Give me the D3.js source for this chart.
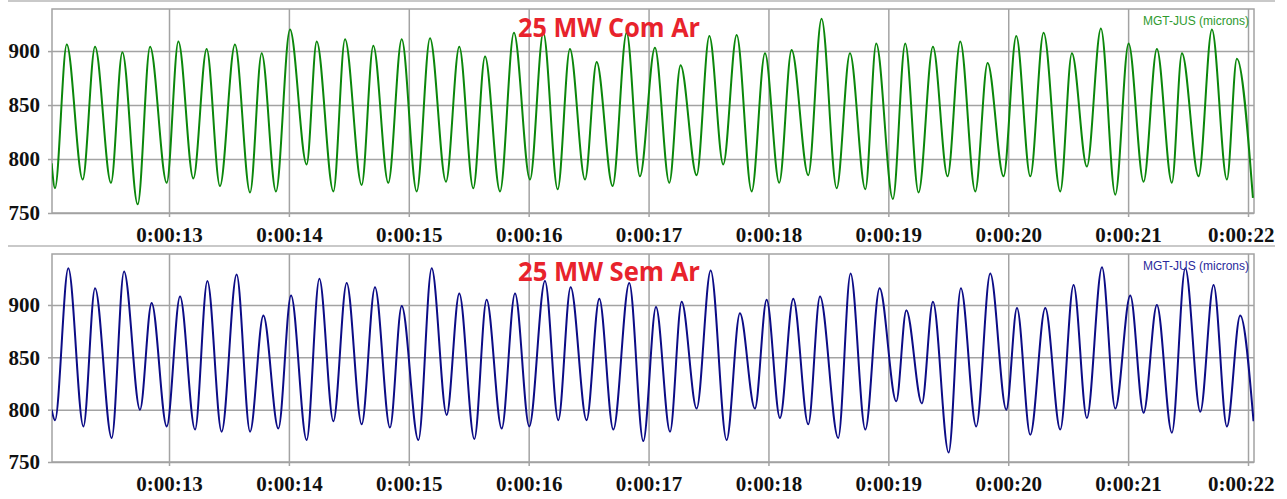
<!DOCTYPE html>
<html>
<head>
<meta charset="utf-8">
<script src="https://cdn.jsdelivr.net/npm/d3@7"></script>
<style>
  body { margin: 0; background: #fff; }
  .tick text { font-family: "Liberation Serif", "Times New Roman", serif; font-weight: bold; font-size: 21px; fill: #111; }
  .domain { display: none; }
</style>
</head>
<body>
<div id="chart"></div>
<script>
const width = 1287;
const height = 499;

/*
Data: trough / peak turning points of each cycle
*/
const comArTimes = [12.021, 12.049, 12.147, 12.280, 12.383, 12.516, 12.611, 12.739, 12.842, 12.981, 13.078,
  13.203, 13.314, 13.425, 13.550, 13.676, 13.773, 13.892, 14.009, 14.148, 14.232, 14.371, 14.468, 14.607,
  14.704, 14.829, 14.941, 15.066, 15.177, 15.310, 15.421, 15.538, 15.636, 15.761, 15.877, 16.011, 16.122,
  16.242, 16.344, 16.470, 16.567, 16.700, 16.817, 16.928, 17.053, 17.173, 17.267, 17.401, 17.507, 17.623,
  17.735, 17.860, 17.971, 18.090, 18.193, 18.332, 18.443, 18.569, 18.680, 18.808, 18.899, 19.038, 19.141,
  19.252, 19.372, 19.494, 19.600, 19.725, 19.828, 19.961, 20.067, 20.184, 20.295, 20.434, 20.531, 20.656,
  20.773, 20.893, 21.004, 21.129, 21.240, 21.365, 21.449, 21.588, 21.699, 21.824, 21.907, 22.041];
const comArValues = [796, 773, 906, 781, 904, 778, 899, 758, 904, 778, 909,
  782, 902, 775, 906, 769, 898, 770, 920, 795, 909, 770, 911, 776,
  905, 778, 911, 770, 912, 779, 904, 773, 895, 770, 917, 781, 917,
  772, 902, 781, 890, 775, 917, 784, 903, 778, 887, 785, 914, 795,
  915, 770, 898, 778, 901, 785, 930, 773, 898, 772, 907, 763, 907,
  769, 904, 784, 909, 770, 889, 784, 914, 784, 917, 770, 898, 793,
  921, 767, 907, 779, 902, 778, 898, 784, 920, 781, 893, 764];

const semArTimes = [12.021, 12.049, 12.160, 12.286, 12.383, 12.522, 12.625, 12.758, 12.855, 12.981, 13.092,
  13.217, 13.320, 13.439, 13.564, 13.676, 13.787, 13.912, 14.018, 14.148, 14.254, 14.371, 14.482, 14.607,
  14.718, 14.843, 14.941, 15.080, 15.191, 15.316, 15.421, 15.547, 15.649, 15.775, 15.886, 16.005, 16.136,
  16.247, 16.350, 16.483, 16.589, 16.706, 16.839, 16.956, 17.062, 17.179, 17.276, 17.401, 17.518, 17.651,
  17.762, 17.887, 17.985, 18.096, 18.207, 18.332, 18.430, 18.582, 18.685, 18.808, 18.927, 19.066, 19.150,
  19.280, 19.372, 19.503, 19.605, 19.733, 19.850, 19.984, 20.073, 20.184, 20.309, 20.434, 20.545, 20.656,
  20.782, 20.893, 21.018, 21.129, 21.240, 21.365, 21.477, 21.602, 21.713, 21.824, 21.935, 22.046];
const semArValues = [800, 790, 935, 784, 916, 773, 932, 800, 902, 784, 908,
  781, 923, 779, 929, 779, 890, 782, 909, 771, 925, 789, 921, 786,
  917, 783, 899, 771, 935, 795, 911, 772, 905, 782, 911, 784, 923,
  790, 917, 790, 906, 781, 921, 770, 898, 779, 903, 801, 933, 771,
  892, 801, 905, 792, 906, 786, 908, 773, 930, 781, 916, 808, 895,
  806, 903, 759, 916, 784, 930, 800, 897, 776, 897, 781, 919, 792,
  936, 801, 909, 797, 900, 778, 935, 798, 919, 784, 890, 789];

const yTicks = [750, 800, 850, 900];
const xTicks = [13, 14, 15, 16, 17, 18, 19, 20, 21, 22];
const titles = ["25 MW Com Ar", "25 MW Sem Ar"];
const legendLabel = "MGT-JUS (microns)";

/*
Panel layout
*/
const panels = [
  { id: "com", times: comArTimes, values: comArValues, title: titles[0],
    top: 9, bottom: 213, yMax: 939, line: "#0b870b", legend: "#2e9a2e", titleY: 37 },
  { id: "sem", times: semArTimes, values: semArValues, title: titles[1],
    top: 254, bottom: 462, yMax: 948.7, line: "#0c0c86", legend: "#2a2a9c", titleY: 281 }
];
const left = 52, right = 1254;
const gridColor = "#a3a3a3";

const svg = d3.select("#chart")
  .append("svg")
  .attr("width", width)
  .attr("height", height);

// separator lines between the panels
[1, 246].forEach((y) => {
  svg.append("line")
    .attr("x1", 8).attr("x2", 1275)
    .attr("y1", y).attr("y2", y)
    .attr("stroke", "#c9c9c9")
    .attr("stroke-width", 2);
});

const x = d3.scaleLinear().domain([12.024, 22.05]).range([left, right]);

panels.forEach((p) => {
  const y = d3.scaleLinear().domain([750, p.yMax]).range([p.bottom, p.top]);
  const g = svg.append("g");

  // grid lines
  g.append("g")
    .attr("transform", `translate(${left},0)`)
    .call(d3.axisLeft(y).tickValues(yTicks).tickSize(-(right - left)).tickFormat(""))
    .call((s) => s.selectAll("line").attr("stroke", gridColor).attr("stroke-width", 1.5));
  g.append("g")
    .attr("transform", `translate(0,${p.bottom})`)
    .call(d3.axisBottom(x).tickValues(xTicks).tickSize(-(p.bottom - p.top)).tickFormat(""))
    .call((s) => s.selectAll("line").attr("stroke", gridColor).attr("stroke-width", 1.5));

  // frame
  g.append("rect")
    .attr("x", left).attr("y", p.top)
    .attr("width", right - left).attr("height", p.bottom - p.top)
    .attr("fill", "none")
    .attr("stroke", gridColor)
    .attr("stroke-width", 1.5);

  // labelled axes
  g.append("g")
    .attr("transform", `translate(${left},0)`)
    .call(d3.axisLeft(y).tickValues(yTicks).tickSize(4).tickPadding(8))
    .call((s) => s.selectAll("line").attr("stroke", gridColor).attr("stroke-width", 1.5));
  const xAxis = g.append("g")
    .attr("transform", `translate(0,${p.bottom})`)
    .call(d3.axisBottom(x).tickValues(xTicks).tickSize(4).tickPadding(10)
      .tickFormat((d) => `0:00:${d}`))
    .call((s) => s.selectAll("line").attr("stroke", gridColor).attr("stroke-width", 1.5));
  xAxis.selectAll(".tick text")
    .filter((d) => d === 22)
    .attr("text-anchor", "end")
    .attr("x", 26);

  // signal
  const clipId = `clip-${p.id}`;
  g.append("clipPath").attr("id", clipId)
    .append("rect")
    .attr("x", left).attr("y", p.top)
    .attr("width", right - left).attr("height", p.bottom - p.top);
  const pts = p.times.map((t, i) => [t, p.values[i]]);
  const line = d3.line()
    .x((d) => x(d[0]))
    .y((d) => y(d[1]))
    .curve(d3.curveMonotoneX);
  g.append("path")
    .datum(pts)
    .attr("clip-path", `url(#${clipId})`)
    .attr("d", line)
    .attr("fill", "none")
    .attr("stroke", p.line)
    .attr("stroke-width", 2);

  // title and legend
  g.append("text")
    .attr("x", 518).attr("y", p.titleY)
    .attr("textLength", 182)
    .attr("lengthAdjust", "spacingAndGlyphs")
    .style("font-family", "'Open Sans', 'Noto Sans', sans-serif")
    .style("font-weight", "bold")
    .style("font-size", "26px")
    .attr("fill", "#e8232c")
    .text(p.title);
  g.append("text")
    .attr("x", 1249).attr("y", p.top + 16)
    .attr("text-anchor", "end")
    .style("font-family", "'Liberation Sans', Arial, sans-serif")
    .style("font-size", "12px")
    .attr("fill", p.legend)
    .text(legendLabel);
});
</script>
</body>
</html>
